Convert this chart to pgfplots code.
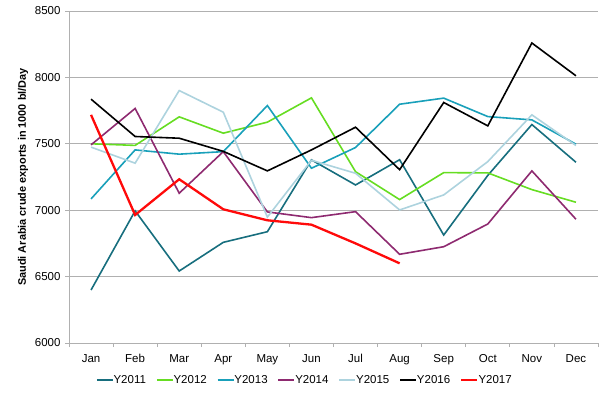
\documentclass[border=0pt]{standalone}
\usepackage{pgfplots}
\pgfplotsset{compat=1.18}
\usepackage{fontspec}
\setmainfont{Liberation Sans}
\definecolor{c11}{HTML}{176E7E}
\definecolor{c12}{HTML}{66DD22}
\definecolor{c13}{HTML}{19A0BA}
\definecolor{c14}{HTML}{8E2A70}
\definecolor{c15}{HTML}{ADD3DE}
\definecolor{c17}{HTML}{FF0A0A}
\definecolor{axgray}{HTML}{B0B0B0}
\begin{document}
\begin{tikzpicture}[x=1pt,y=1pt]
\path (0,0) rectangle (607,396);
\begin{axis}[
  at={(69pt,53pt)}, anchor=south west,
  scale only axis, width=529pt, height=332pt,
  xmin=0.5, xmax=12.5, ymin=6000, ymax=8500,
  xtick={1,...,12},
  xticklabels={Jan,Feb,Mar,Apr,May,Jun,Jul,Aug,Sep,Oct,Nov,Dec},
  minor xtick={0.5,1.5,...,12.5},
  major x tick style={draw=none},
  minor tick length=4pt,
  ytick={6000,6500,...,8500},
  major tick length=4pt,
  tick align=outside,
  tick style={axgray, line width=0.8pt},
  axis x line*=bottom, axis y line*=left,
  axis line style={axgray, line width=0.8pt, -},
  ymajorgrids, grid style={axgray, line width=0.8pt},
  /pgf/number format/.cd, 1000 sep={}, assume math mode=true, /pgfplots/.cd,
  ticklabel style={font=\fontsize{11.5}{13}\selectfont},
  xticklabel style={yshift=-4pt},
  yticklabel style={xshift=-1pt},
  ylabel={\bfseries Saudi Arabia crude exports in 1000 bl/Day},
  ylabel style={font=\fontsize{10.9}{12}\selectfont, yshift=0pt},
  legend style={at={(0.444,-0.085)}, anchor=north, draw=none, fill=none,
    legend columns=7, font=\fontsize{11.5}{13}\selectfont,
    nodes={inner xsep=0pt},
    /tikz/every even column/.append style={column sep=10pt}},
  legend image code/.code={\draw[#1] (0pt,0pt) -- (16pt,0pt);},
  legend cell align=left,
  every axis plot/.append style={line width=1.6pt, line join=miter},
  clip=false,
]
\addplot[c11] coordinates {(1,6399)(2,6995)(3,6542)(4,6758)(5,6838)(6,7379)(7,7190)(8,7380)(9,6813)(10,7262)(11,7645)(12,7361)};
\addlegendentry{Y2011}
\addplot[c12] coordinates {(1,7500)(2,7488)(3,7703)(4,7580)(5,7663)(6,7846)(7,7290)(8,7080)(9,7283)(10,7281)(11,7155)(12,7060)};
\addlegendentry{Y2012}
\addplot[c13] coordinates {(1,7085)(2,7454)(3,7422)(4,7441)(5,7788)(6,7316)(7,7472)(8,7798)(9,7844)(10,7705)(11,7680)(12,7497)};
\addlegendentry{Y2013}
\addplot[c14] coordinates {(1,7492)(2,7766)(3,7128)(4,7441)(5,6987)(6,6944)(7,6989)(8,6668)(9,6725)(10,6896)(11,7296)(12,6932)};
\addlegendentry{Y2014}
\addplot[c15] coordinates {(1,7475)(2,7354)(3,7901)(4,7738)(5,6948)(6,7376)(7,7278)(8,7002)(9,7115)(10,7366)(11,7718)(12,7487)};
\addlegendentry{Y2015}
\addplot[black] coordinates {(1,7836)(2,7555)(3,7542)(4,7443)(5,7296)(6,7454)(7,7625)(8,7305)(9,7811)(10,7635)(11,8259)(12,8012)};
\addlegendentry{Y2016}
\addplot[c17, line width=2.3pt] coordinates {(1,7718)(2,6964)(3,7233)(4,7007)(5,6924)(6,6891)(7,6750)(8,6600)};
\addlegendentry{Y2017}
\end{axis}
\end{tikzpicture}
\end{document}
